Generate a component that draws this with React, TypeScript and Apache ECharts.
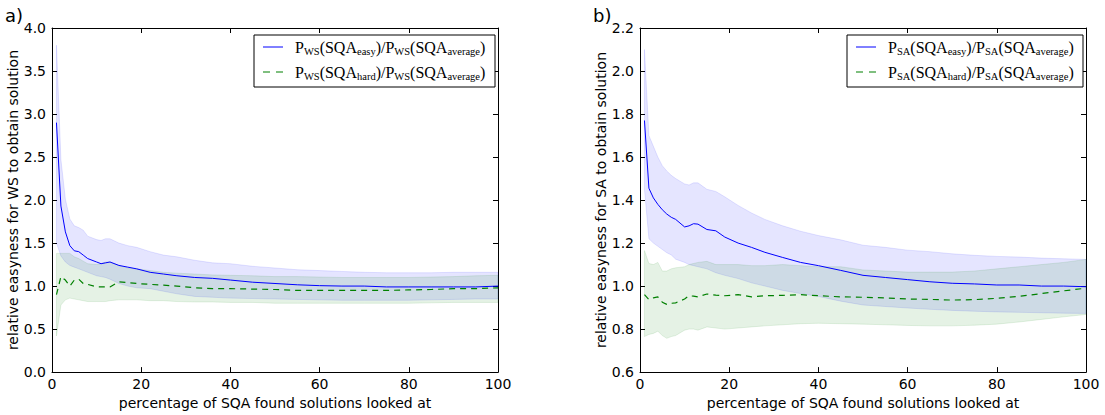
import React, { useEffect, useRef } from "react";
import * as echarts from "echarts";

// shared x grid (percentage of SQA found solutions looked at)
const X = [1, 2, 3, 4, 5, 6, 7, 8, 10, 11, 12, 13, 15, 17, 19, 22, 25, 28, 32, 36, 40, 45, 50, 55, 60, 65, 70, 75, 80, 85, 90, 95, 100];

// panel a) WS
const wsEasy = [2.9, 1.93, 1.63, 1.47, 1.41, 1.4, 1.36, 1.32, 1.28, 1.26, 1.27, 1.28, 1.24, 1.22, 1.2, 1.16, 1.14, 1.12, 1.1, 1.09, 1.07, 1.045, 1.03, 1.015, 1.005, 1.0, 1.0, 0.99, 0.99, 0.99, 0.99, 0.99, 1.0];
const wsEasyUpper = [3.8, 2.47, 2.01, 1.78, 1.7, 1.68, 1.65, 1.58, 1.54, 1.53, 1.55, 1.55, 1.5, 1.47, 1.45, 1.4, 1.36, 1.34, 1.3, 1.27, 1.26, 1.23, 1.21, 1.19, 1.18, 1.17, 1.16, 1.155, 1.155, 1.155, 1.16, 1.16, 1.16];
const wsEasyLower = [1.5, 1.35, 1.28, 1.24, 1.22, 1.2, 1.18, 1.16, 1.12, 1.11, 1.1, 1.08, 1.03, 1.0, 0.98, 0.97, 0.94, 0.91, 0.88, 0.87, 0.86, 0.855, 0.85, 0.845, 0.84, 0.835, 0.835, 0.835, 0.835, 0.84, 0.845, 0.85, 0.85];
const wsHard = [0.9, 1.11, 1.07, 1.0, 1.07, 1.08, 1.03, 1.02, 0.99, 0.99, 0.99, 0.99, 1.05, 1.04, 1.03, 1.02, 1.01, 1.0, 0.98, 0.97, 0.97, 0.965, 0.96, 0.95, 0.95, 0.95, 0.95, 0.95, 0.955, 0.96, 0.97, 0.97, 0.98];
const wsHardUpper = [1.38, 1.38, 1.38, 1.38, 1.34, 1.32, 1.29, 1.26, 1.25, 1.26, 1.28, 1.28, 1.24, 1.21, 1.2, 1.18, 1.16, 1.15, 1.14, 1.13, 1.125, 1.12, 1.11, 1.11, 1.105, 1.1, 1.1, 1.1, 1.1, 1.105, 1.11, 1.12, 1.125];
const wsHardLower = [0.42, 0.78, 0.84, 0.86, 0.85, 0.84, 0.83, 0.82, 0.82, 0.82, 0.82, 0.83, 0.84, 0.84, 0.84, 0.83, 0.83, 0.82, 0.815, 0.815, 0.81, 0.81, 0.8, 0.8, 0.8, 0.8, 0.8, 0.8, 0.8, 0.805, 0.81, 0.81, 0.81];

// panel b) SA
const saEasy = [1.77, 1.455, 1.41, 1.38, 1.355, 1.335, 1.32, 1.31, 1.275, 1.28, 1.29, 1.288, 1.263, 1.257, 1.228, 1.2, 1.18, 1.157, 1.133, 1.11, 1.095, 1.073, 1.05, 1.04, 1.03, 1.02, 1.013, 1.01, 1.005, 1.005, 1.0, 1.0, 0.997];
const saEasyUpper = [2.1, 1.7, 1.65, 1.6, 1.56, 1.535, 1.515, 1.5, 1.475, 1.47, 1.48, 1.48, 1.45, 1.44, 1.415, 1.375, 1.34, 1.31, 1.28, 1.255, 1.235, 1.215, 1.19, 1.18, 1.167, 1.16, 1.15, 1.143, 1.138, 1.135, 1.13, 1.127, 1.124];
const saEasyLower = [1.45, 1.22, 1.2, 1.185, 1.17, 1.155, 1.145, 1.125, 1.11, 1.1, 1.095, 1.09, 1.08, 1.062, 1.05, 1.035, 1.015, 1.0, 0.98, 0.965, 0.952, 0.93, 0.912, 0.905, 0.898, 0.892, 0.887, 0.883, 0.88, 0.878, 0.876, 0.874, 0.873];
const saHard = [0.96, 0.937, 0.945, 0.95, 0.925, 0.915, 0.92, 0.922, 0.94, 0.955, 0.953, 0.95, 0.963, 0.958, 0.955, 0.96, 0.95, 0.955, 0.957, 0.96, 0.955, 0.95, 0.948, 0.945, 0.94, 0.938, 0.935, 0.937, 0.943, 0.952, 0.965, 0.978, 0.99];
const saHardUpper = [1.165, 1.105, 1.1, 1.11, 1.07, 1.07, 1.08, 1.085, 1.09, 1.1, 1.105, 1.11, 1.115, 1.1, 1.1, 1.1, 1.095, 1.095, 1.1, 1.095, 1.09, 1.09, 1.075, 1.07, 1.065, 1.065, 1.065, 1.07, 1.08, 1.09, 1.1, 1.11, 1.124];
const saHardLower = [0.765, 0.775, 0.78, 0.79, 0.77, 0.757, 0.765, 0.77, 0.795, 0.8, 0.8, 0.795, 0.81, 0.805, 0.8, 0.805, 0.81, 0.815, 0.82, 0.825, 0.827, 0.825, 0.823, 0.82, 0.817, 0.815, 0.815, 0.818, 0.823, 0.833, 0.845, 0.857, 0.868];

const xTicks = { min: 0, max: 100, interval: 20 };
const wsTicks = { min: 0, max: 4, interval: 0.5 };
const saTicks = { min: 0.6, max: 2.2, interval: 0.2 };

const xName = "percentage of SQA found solutions looked at";
const wsName = "relative easyness for WS to obtain solution";
const saName = "relative easyness for SA to obtain solution";

const BLUE = "#0000ff";
const GREEN = "#008000";
const FONT = "DejaVu Sans";
const FS = 14;

function band(upper: number[], lower: number[], color: string, idx: number) {
  return {
    type: "custom",
    xAxisIndex: idx,
    yAxisIndex: idx,
    silent: true,
    z: 1,
    data: [[X[0], upper[0]]],
    renderItem: (_p: any, api: any) => {
      const pts: number[][] = [];
      for (let i = 0; i < X.length; i++) pts.push(api.coord([X[i], upper[i]]));
      for (let i = X.length - 1; i >= 0; i--) pts.push(api.coord([X[i], lower[i]]));
      return { type: "polygon", shape: { points: pts }, style: { fill: color, stroke: color, lineWidth: 1 } };
    },
  };
}

function line(name: string, vals: number[], color: string, dashed: boolean, idx: number) {
  return {
    type: "line",
    name,
    xAxisIndex: idx,
    yAxisIndex: idx,
    z: 3,
    symbol: "none",
    showSymbol: false,
    data: X.map((x, i) => [x, vals[i]]),
    lineStyle: { color, width: dashed ? 1.2 : 1, type: dashed ? [6, 5] : "solid" },
    itemStyle: { color },
  };
}

const axisBase = {
  axisLine: { show: true, onZero: false, lineStyle: { color: "#000", width: 1 } },
  axisTick: { show: true, inside: true, length: 5, lineStyle: { color: "#000", width: 1 } },
  splitLine: { show: false },
};

function xAxes(grid: number) {
  return [
    {
      ...axisBase,
      type: "value",
      gridIndex: grid,
      position: "bottom",
      ...xTicks,
      name: xName,
      nameLocation: "middle",
      nameGap: 23,
      nameTextStyle: { color: "#000", fontFamily: FONT, fontSize: FS },
      axisLabel: { color: "#000", fontFamily: FONT, fontSize: FS, margin: 5, showMinLabel: true, showMaxLabel: true },
    },
    { ...axisBase, type: "value", gridIndex: grid, position: "top", ...xTicks, axisLabel: { show: false } },
  ];
}

function yAxes(grid: number, ticks: any, name: string) {
  return [
    {
      ...axisBase,
      type: "value",
      gridIndex: grid,
      position: "left",
      ...ticks,
      name,
      nameLocation: "middle",
      nameGap: 30,
      nameTextStyle: { color: "#000", fontFamily: FONT, fontSize: FS },
      axisLabel: {
        color: "#000",
        fontFamily: FONT,
        fontSize: FS,
        margin: 6,
        showMinLabel: true,
        showMaxLabel: true,
        formatter: (v: number) => v.toFixed(1),
      },
    },
    { ...axisBase, type: "value", gridIndex: grid, position: "right", ...ticks, axisLabel: { show: false } },
  ];
}

const rich = {
  m: { fontFamily: "Liberation Serif", fontSize: 16, color: "#000", lineHeight: 20, verticalAlign: "middle" },
  s: { fontFamily: "Liberation Serif", fontSize: 10.5, color: "#000", lineHeight: 10, verticalAlign: "bottom" },
};

function legendText(p: string, sub: string) {
  return `{m|P}{s|${p}}{m|(SQA}{s|${sub}}{m|)/P}{s|${p}}{m|(SQA}{s|average}{m|)}`;
}

function legend(x: number, w: number, p: string) {
  return [
    { type: "rect", shape: { x, y: 35, width: w, height: 52 }, style: { fill: "#fff", stroke: "#000", lineWidth: 1 }, z: 10 },
    { type: "line", shape: { x1: x + 9, y1: 47, x2: x + 29, y2: 47 }, style: { stroke: BLUE, lineWidth: 1 }, z: 11 },
    { type: "line", shape: { x1: x + 9, y1: 72, x2: x + 29, y2: 72 }, style: { stroke: GREEN, lineWidth: 1.2, lineDash: [7, 6] }, z: 11 },
    { type: "text", x: x + 41, y: 47, style: { text: legendText(p, "easy"), rich, verticalAlign: "middle" }, z: 11 },
    { type: "text", x: x + 41, y: 72, style: { text: legendText(p, "hard"), rich, verticalAlign: "middle" }, z: 11 },
  ];
}

export default function App() {
  const ref = useRef<HTMLDivElement>(null);
  useEffect(() => {
    if (!ref.current) return;
    const chart = echarts.init(ref.current, undefined, { renderer: "svg" });
    chart.setOption({
      animation: false,
      backgroundColor: "#fff",
      grid: [
        { left: 52, top: 28, width: 446, height: 346 },
        { left: 640, top: 28, width: 446, height: 346 },
      ],
      xAxis: [...xAxes(0), ...xAxes(1)],
      yAxis: [...yAxes(0, wsTicks, wsName), ...yAxes(1, saTicks, saName)],
      series: [
        band(wsEasyUpper, wsEasyLower, "rgba(0,0,255,0.1)", 0),
        band(wsHardUpper, wsHardLower, "rgba(0,128,0,0.1)", 0),
        line("P_WS(SQA_easy)/P_WS(SQA_average)", wsEasy, BLUE, false, 0),
        line("P_WS(SQA_hard)/P_WS(SQA_average)", wsHard, GREEN, true, 0),
        band(saEasyUpper, saEasyLower, "rgba(0,0,255,0.1)", 2),
        band(saHardUpper, saHardLower, "rgba(0,128,0,0.1)", 2),
        line("P_SA(SQA_easy)/P_SA(SQA_average)", saEasy, BLUE, false, 2),
        line("P_SA(SQA_hard)/P_SA(SQA_average)", saHard, GREEN, true, 2),
      ],
      graphic: [
        { type: "text", x: 5, y: 6, style: { text: "a)", fontFamily: FONT, fontSize: 18, fill: "#000" } },
        { type: "text", x: 593, y: 6, style: { text: "b)", fontFamily: FONT, fontSize: 18, fill: "#000" } },
        ...legend(254, 241, "WS"),
        ...legend(847, 236, "SA"),
      ],
    });
    return () => chart.dispose();
  }, []);
  return <div ref={ref} style={{ position: "absolute", left: 0, top: 0, width: 1105, height: 415 }} />;
}
